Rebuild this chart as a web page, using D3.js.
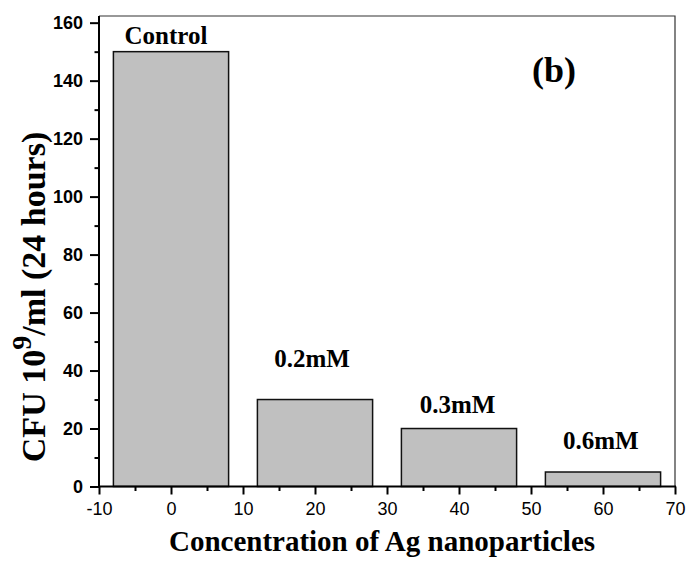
<!DOCTYPE html>
<html>
<head>
<meta charset="utf-8">
<script src="https://cdn.jsdelivr.net/npm/d3@7"></script>
<style>
  body { margin: 0; background: #fff; }
</style>
</head>
<body>
<svg id="chart"></svg>
<script>
// bar data
const barCenters = [0, 20, 40, 60];
const barValues = [150, 30, 20, 5];
const barHalfWidth = 8;

// annotation text placed in data units
const labelText = ['Control', '0.2mM', '0.3mM', '0.6mM'];
const labelX = [-0.7, 19.6, 39.8, 59.7];
const labelY = [152.7, 41.2, 25.4, 12.9];

const xTicks = [-10, 0, 10, 20, 30, 40, 50, 60, 70];
const yTicks = [0, 20, 40, 60, 80, 100, 120, 140, 160];

const width = 688;
const height = 567;
const plot = { left: 99, right: 675, top: 16, bottom: 486.5 };

const svg = d3.select('#chart')
  .attr('width', width)
  .attr('height', height);

const x = d3.scaleLinear().domain([-10, 70]).range([plot.left, plot.right]);
const y = d3.scaleLinear().domain([0, 162.3]).range([plot.bottom, plot.top]);

// bars
svg.selectAll('.bar')
  .data(barCenters)
  .enter()
  .append('rect')
  .attr('class', 'bar')
  .attr('x', d => x(d - barHalfWidth))
  .attr('width', d => x(d + barHalfWidth) - x(d - barHalfWidth))
  .attr('y', (d, i) => y(barValues[i]))
  .attr('height', (d, i) => y(0) - y(barValues[i]))
  .attr('fill', '#c0c0c0')
  .attr('stroke', '#111')
  .attr('stroke-width', 1.5);

// top and right frame
svg.append('path')
  .attr('d', `M${plot.left},${plot.top}H${plot.right}V${plot.bottom}`)
  .attr('fill', 'none')
  .attr('stroke', '#333')
  .attr('stroke-width', 1.2);

// x axis, major + minor ticks
const xAxis = svg.append('g')
  .attr('transform', `translate(0,${plot.bottom})`)
  .call(d3.axisBottom(x).tickValues(xTicks).tickSize(8).tickPadding(8).tickFormat(d => String(d)));
svg.append('g')
  .attr('transform', `translate(0,${plot.bottom})`)
  .call(d3.axisBottom(x).tickValues(d3.range(-5, 70, 10)).tickSize(4.5).tickFormat(''))
  .call(g => g.select('.domain').remove());

xAxis.selectAll('text')
  .attr('font-family', 'Liberation Sans, Arial, sans-serif')
  .attr('font-size', 18)
  .attr('fill', '#000');

// y axis, major + minor ticks
const yAxis = svg.append('g')
  .attr('transform', `translate(${plot.left},0)`)
  .call(d3.axisLeft(y).tickValues(yTicks).tickSize(9).tickPadding(7).tickFormat(d => String(d)));
svg.append('g')
  .attr('transform', `translate(${plot.left},0)`)
  .call(d3.axisLeft(y).tickValues(d3.range(10, 160, 20)).tickSize(4.5).tickFormat(''))
  .call(g => g.select('.domain').remove());

yAxis.selectAll('text')
  .attr('font-family', 'Liberation Sans, Arial, sans-serif')
  .attr('font-weight', 'bold')
  .attr('font-size', 18)
  .attr('fill', '#000');

svg.selectAll('.domain, .tick line')
  .attr('stroke', '#000')
  .attr('stroke-width', 2);
// clean the domain ends
xAxis.select('.domain').attr('d', `M${plot.left - 1},0H${plot.right + 1}`);
yAxis.select('.domain').attr('d', `M0,${plot.bottom + 1}V${plot.top}`);

// bar labels
svg.selectAll('.bar-label')
  .data(labelText)
  .enter()
  .append('text')
  .attr('class', 'bar-label')
  .attr('x', (d, i) => x(labelX[i]))
  .attr('y', (d, i) => y(labelY[i]))
  .attr('text-anchor', 'middle')
  .attr('font-family', 'Liberation Serif, Times New Roman, serif')
  .attr('font-weight', 'bold')
  .attr('font-size', 25)
  .text(d => d);

// panel letter
svg.append('text')
  .attr('x', x(53.2))
  .attr('y', y(139.5))
  .attr('text-anchor', 'middle')
  .attr('font-family', 'Liberation Serif, Times New Roman, serif')
  .attr('font-weight', 'bold')
  .attr('font-size', 36)
  .text('(b)');

// axis titles
svg.append('text')
  .attr('x', (plot.left + plot.right) / 2 - 5)
  .attr('y', 551)
  .attr('text-anchor', 'middle')
  .attr('font-family', 'Liberation Serif, Times New Roman, serif')
  .attr('font-weight', 'bold')
  .attr('font-size', 29)
  .text('Concentration of Ag nanoparticles');

const yTitle = svg.append('text')
  .attr('transform', 'translate(45,297) rotate(-90)')
  .attr('text-anchor', 'middle')
  .attr('font-family', 'Liberation Serif, Times New Roman, serif')
  .attr('font-weight', 'bold')
  .attr('font-size', 34);
yTitle.append('tspan').text('CFU 10');
yTitle.append('tspan').attr('dy', -14).attr('font-size', 28).text('9');
yTitle.append('tspan').attr('dy', 14).text('/ml (24 hours)');
</script>
</body>
</html>
